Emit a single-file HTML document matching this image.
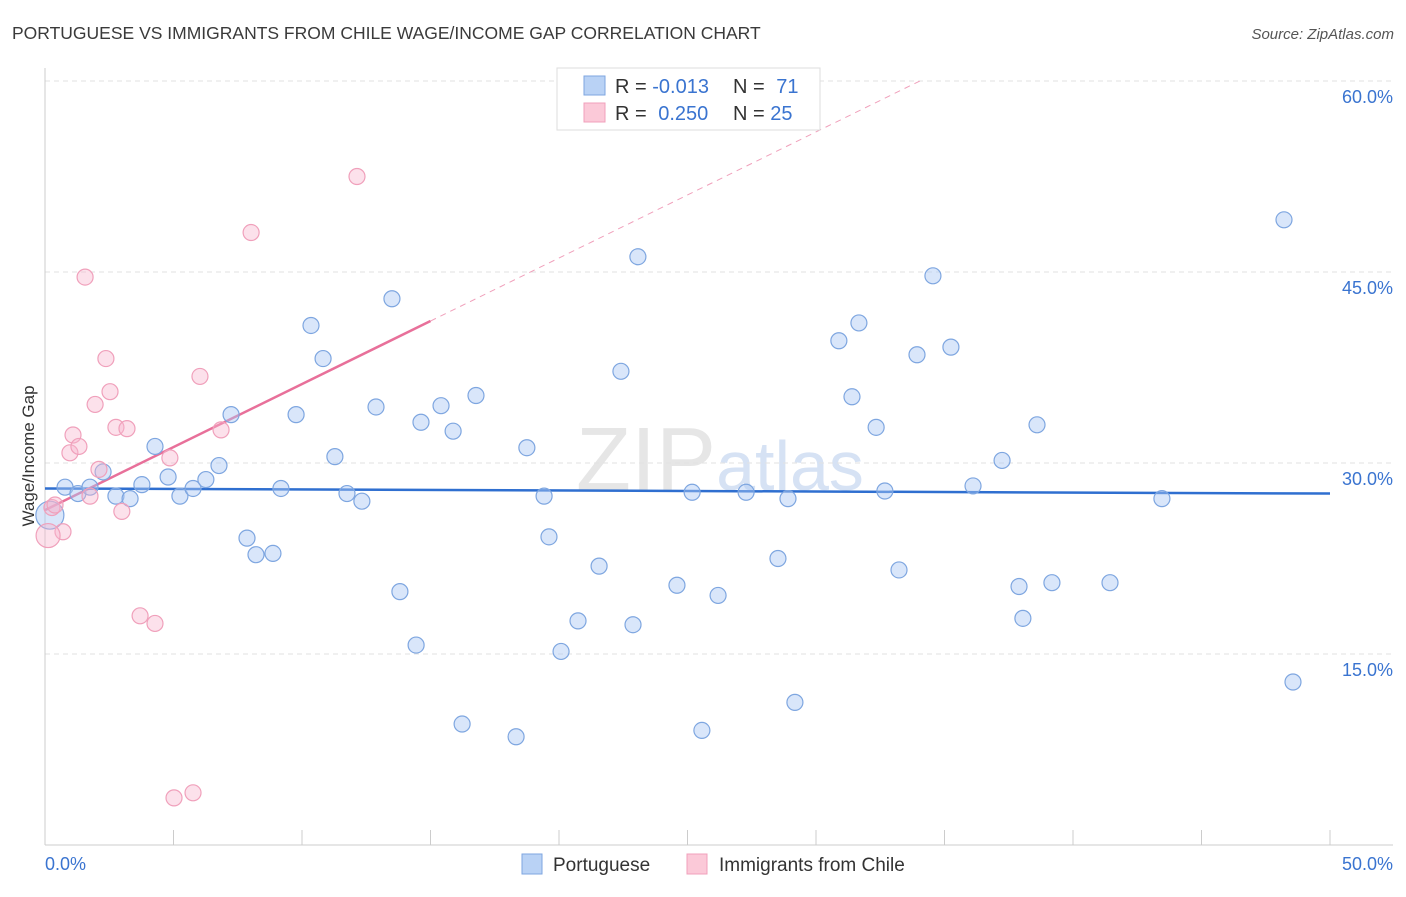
<!DOCTYPE html>
<html><head><meta charset="utf-8"><style>
body{margin:0;background:#fff;font-family:"Liberation Sans",sans-serif;}
svg text{font-family:"Liberation Sans",sans-serif;}
</style></head><body>
<svg id="chart" width="1406" height="892" viewBox="0 0 1406 892">
<text x="12" y="39" font-size="17.5" fill="#3a3a3a">PORTUGUESE VS IMMIGRANTS FROM CHILE WAGE/INCOME GAP CORRELATION CHART</text>
<text x="1394" y="39" font-size="15" fill="#555" font-style="italic" text-anchor="end">Source: ZipAtlas.com</text>
<text x="720" y="490" font-size="90" fill="#e6e6e6" text-anchor="middle" font-family="Liberation Serif">ZIP<tspan fill="#d6e2f4" font-family="Liberation Sans" font-size="70">atlas</tspan></text>
<g id="grid"></g>
<g id="axes"></g>
<g id="trends"></g>
<g id="points"></g>
<text transform="translate(34,456) rotate(-90)" font-size="17" fill="#333" text-anchor="middle">Wage/Income Gap</text>
<g>
<rect x="557" y="68" width="263" height="62" fill="#fff" stroke="#ddd"/>
<rect x="584" y="76" width="21" height="19" fill="#b9d2f5" stroke="#7ea6e0"/>
<rect x="584" y="103" width="21" height="19" fill="#fbc9d8" stroke="#f0a0bb"/>
<text x="615" y="93" font-size="20" fill="#333">R = <tspan fill="#3a74d0">-0.013</tspan></text>
<text x="733" y="93" font-size="20" fill="#333">N = <tspan fill="#3a74d0" dx="6">71</tspan></text>
<text x="615" y="120" font-size="20" fill="#333">R = <tspan fill="#3a74d0" dx="6">0.250</tspan></text>
<text x="733" y="120" font-size="20" fill="#333">N = <tspan fill="#3a74d0">25</tspan></text>
</g>
<g>
<rect x="522" y="854" width="20" height="20" fill="#b9d2f5" stroke="#7ea6e0"/>
<text x="553" y="871" font-size="19" fill="#333">Portuguese</text>
<rect x="687" y="854" width="20" height="20" fill="#fbc9d8" stroke="#f0a0bb"/>
<text x="719" y="871" font-size="19" fill="#333">Immigrants from Chile</text>
</g>
</svg>
<script>
const blueX=[0.78,1.28,1.75,2.26,2.76,3.31,3.77,4.28,4.79,5.25,5.76,6.26,6.77,7.24,7.86,8.21,8.87,9.18,9.77,10.35,10.82,11.28,11.75,12.33,12.88,13.5,13.81,14.44,14.63,15.41,15.88,16.23,16.77,18.33,18.75,19.42,19.61,20.08,20.74,21.56,22.41,22.88,23.07,24.59,25.18,25.56,26.19,27.28,28.52,28.91,29.18,30.89,31.4,31.67,32.34,32.68,33.23,33.93,34.55,35.25,36.11,37.24,37.9,38.05,38.6,39.18,41.44,43.46,48.21,48.56,0.19];
const blueY=[28.1,27.6,28.1,29.3,27.4,27.2,28.3,31.3,28.9,27.4,28.0,28.7,29.8,33.8,24.1,22.8,22.9,28.0,33.8,40.8,38.2,30.5,27.6,27.0,34.4,42.9,19.9,15.7,33.2,34.5,32.5,9.5,35.3,8.5,31.2,27.4,24.2,15.2,17.6,21.9,37.2,17.3,46.2,20.4,27.7,9.0,19.6,27.7,22.5,27.2,11.2,39.6,35.2,41.0,32.8,27.8,21.6,38.5,44.7,39.1,28.2,30.2,20.3,17.8,33.0,20.6,20.6,27.2,49.1,12.8,25.9];
const pinkX=[0.27,0.7,1.56,1.95,0.97,1.09,1.32,2.1,1.75,2.37,2.53,2.76,2.99,3.19,3.7,4.28,4.86,5.02,5.76,6.03,6.85,8.02,12.14,0.12,0.39];
const pinkY=[26.5,24.6,44.6,34.6,30.8,32.2,31.3,29.5,27.4,38.2,35.6,32.8,26.2,32.7,18.0,17.4,30.4,3.7,4.1,36.8,32.6,48.1,52.5,24.3,26.7];
const yTicks=[15,30,45,60];
const yTickLabels=["15.0%","30.0%","45.0%","60.0%"];
const xTicks=[0,5,10,15,20,25,30,35,40,45,50];
const blueTrend=[28.0,27.6];
const pinkTrend=[26.3,0.99];
const X=v=>45+v*1285/50, Y=v=>845-v*191/15;
const NS="http://www.w3.org/2000/svg";
function mk(p,t,a){const e=document.createElementNS(NS,t);for(const k in a)e.setAttribute(k,a[k]);p.appendChild(e);return e;}
const grid=document.getElementById('grid'),axes=document.getElementById('axes'),tr=document.getElementById('trends'),pts=document.getElementById('points');
yTicks.forEach((v,i)=>{
 const l=mk(grid,'line',{x1:45,x2:1393,y1:Y(v),y2:Y(v),stroke:'#e2e2e2','stroke-dasharray':'5,4'});
 
 
 const t=mk(axes,'text',{x:1393,y:Y(v)+22,'font-size':18,fill:'#3a74d0','text-anchor':'end'});t.textContent=yTickLabels[i];
 
 
});
mk(axes,'line',{x1:45,x2:45,y1:68,y2:845,stroke:'#ccc'});
mk(axes,'line',{x1:45,x2:1393,y1:845,y2:845,stroke:'#ccc'});
xTicks.forEach(v=>{const l=mk(axes,'line',{x1:X(v),x2:X(v),y1:830,y2:845,stroke:'#ccc'});
 
 });
let t0=mk(axes,'text',{x:45,y:870,'font-size':18,fill:'#3a74d0'});t0.textContent='0.0%';


let t1=mk(axes,'text',{x:1393,y:870,'font-size':18,fill:'#3a74d0','text-anchor':'end'});t1.textContent='50.0%';


blueX.forEach((x,i)=>{const c=mk(pts,'circle',{cx:X(x),cy:Y(blueY[i]),r:i==blueX.length-1?14:8,fill:'rgba(170,200,245,0.45)',stroke:'#7ea6e0','stroke-width':1.2});
 
 });
pinkX.forEach((x,i)=>{const c=mk(pts,'circle',{cx:X(x),cy:Y(pinkY[i]),r:i==23?12:8,fill:'rgba(248,180,205,0.4)',stroke:'#f0a0bb','stroke-width':1.2});
 
 });
const pe=(60-pinkTrend[0])/pinkTrend[1];
let d=mk(tr,'line',{x1:X(15),y1:Y(pinkTrend[0]+15*pinkTrend[1]),x2:X(pe),y2:Y(60),stroke:'#f0a0bb','stroke-dasharray':'6,5'});


let p=mk(tr,'line',{x1:X(0),y1:Y(pinkTrend[0]),x2:X(15),y2:Y(pinkTrend[0]+15*pinkTrend[1]),stroke:'#e8709a','stroke-width':2.5});


let b=mk(tr,'line',{x1:X(0),y1:Y(blueTrend[0]),x2:X(50),y2:Y(blueTrend[1]),stroke:'#2f6fd0','stroke-width':2.5});


</script>
</body></html>
